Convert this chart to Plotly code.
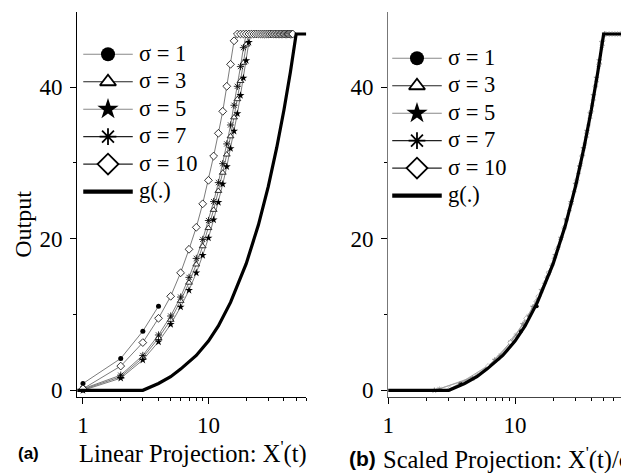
import plotly.graph_objects as go

W, H = 621, 473
ML, MR, MT, MB = 0, 0, 12, 76

# ---------------- data ----------------
x_sig1 = [1, 2, 3, 4]
y_sig1 = [0.9, 4.2, 7.8, 11.1]

x_sig3 = list(range(1, 22))
y_sig3 = [0.1, 1.8, 4.3, 6.9, 9.3, 11.8, 14.2, 16.6, 19.0, 21.4, 23.8, 26.3,
          28.7, 31.1, 33.5, 36.0, 38.4, 40.8, 43.2, 45.6, 47.0]

x_sig5 = list(range(1, 23))
y_sig5 = [0.0, 1.6, 4.0, 6.4, 8.7, 11.0, 13.2, 15.5, 17.8, 20.1, 22.5, 24.8,
          27.2, 29.5, 31.9, 34.2, 36.5, 38.9, 41.2, 43.5, 45.9, 47.0]

x_sig7 = list(range(1, 21))
y_sig7 = [0.2, 2.0, 4.6, 7.3, 9.8, 12.3, 14.9, 17.4, 19.9, 22.4, 24.9, 27.4,
          29.9, 32.5, 35.0, 37.6, 40.1, 42.7, 45.2, 47.0]

x_sig10 = list(range(1, 48))
y_sig10 = [0.2, 3.2, 6.3, 9.5, 12.4, 15.5, 18.6, 21.5, 24.6, 27.7, 30.9, 33.9,
           36.8, 40.1, 43.0, 46.1, 47, 47, 47, 47, 47, 47, 47, 47, 47, 47, 47,
           47, 47, 47, 47, 47, 47, 47, 47, 47, 47, 47, 47, 47, 47, 47, 47, 47,
           47, 47, 47]

# scaling constants c used on panel (b): X'(t)/c
c_sig1, c_sig3, c_sig5, c_sig7, c_sig10 = 0.27, 0.41, 0.433, 0.394, 0.326

g_x = [0.85, 1, 2, 3, 4, 5, 6, 7, 8, 10, 12, 15, 20, 25, 30, 35, 40, 45, 50, 60, 80]
g_y = [0, 0, 0, 0, 0.9, 1.8, 2.8, 3.7, 4.6, 6.5, 8.5, 11.6, 16.7, 21.8, 26.9,
       32.0, 37.0, 42.0, 47.0, 47.0, 47.0]

legend_labels = ["σ = 1", "σ = 3", "σ = 5", "σ = 7", "σ = 10", "g(.)"]
panel_a_title = "Linear Projection: X<sup>'</sup>(t)"
panel_b_title = "Scaled Projection: X<sup>'</sup>(t)/σ"
y_title = "Output"

# ---------------- helpers ----------------
SERIF = "Liberation Serif"
SANS = "Liberation Sans"
PW = W - ML - MR
PH = H - MT - MB


def px(x):
    return (x - ML) / PW


def py(y):
    return (H - MB - y) / PH


series = [
    (x_sig1, y_sig1, c_sig1, dict(symbol="circle", size=5, color="black",
                                  line=dict(width=0))),
    (x_sig3, y_sig3, c_sig3, dict(symbol="triangle-up", size=6, color="white",
                                  line=dict(width=0.8, color="black"))),
    (x_sig5, y_sig5, c_sig5, dict(symbol="star", size=6, color="black",
                                  line=dict(width=0))),
    (x_sig7, y_sig7, c_sig7, dict(symbol="asterisk-open", size=6, color="black",
                                  line=dict(width=0.8, color="black"))),
    (x_sig10, y_sig10, c_sig10, dict(symbol="diamond", size=6, color="white",
                                     line=dict(width=0.8, color="black"))),
]
legend_markers = [
    dict(symbol="circle", size=14, color="black", line=dict(width=0)),
    dict(symbol="triangle-up", size=14, color="white",
         line=dict(width=1.8, color="black")),
    dict(symbol="star", size=16, color="black", line=dict(width=0)),
    dict(symbol="asterisk-open", size=14, color="black",
         line=dict(width=1.8, color="black")),
    dict(symbol="diamond", size=16, color="white",
         line=dict(width=1.8, color="black")),
]
legend_line_colors = ["#888", "#222", "#888", "#222", "#222"]

fig = go.Figure()

# panel (a)
for (xs, ys, c, mk) in series:
    fig.add_trace(go.Scatter(x=xs, y=ys, mode="lines+markers",
                             line=dict(color="#444", width=0.7), marker=mk,
                             showlegend=False, xaxis="x", yaxis="y",
                             cliponaxis=False))
fig.add_trace(go.Scatter(x=g_x, y=g_y, mode="lines",
                         line=dict(color="black", width=3.2),
                         showlegend=False, xaxis="x", yaxis="y"))

# panel (b)
for (xs, ys, c, mk) in series:
    mk2 = dict(mk)
    mk2["size"] = 4
    if mk["symbol"] != "circle":
        mk2["color"] = "white" if mk["color"] == "white" else "#777"
        mk2["line"] = dict(width=0.5, color="#888")
    fig.add_trace(go.Scatter(x=[v / c for v in xs], y=ys, mode="lines+markers",
                             line=dict(color="#999", width=0.6), marker=mk2,
                             showlegend=False, xaxis="x2", yaxis="y2"))
fig.add_trace(go.Scatter(x=g_x, y=g_y, mode="lines",
                         line=dict(color="black", width=3.2),
                         showlegend=False, xaxis="x2", yaxis="y2"))

# ---- legend keys drawn on a pixel-unit overlay axis (x3/y3) ----
annotations = []
for (lx0, ly0) in ((78, 54.3), (390, 58.3)):
    for i, lab in enumerate(legend_labels):
        yy = ly0 + 27.45 * i
        if i < 5:
            fig.add_trace(go.Scatter(x=[lx0, lx0 + 50], y=[yy, yy], mode="lines",
                                     line=dict(color=legend_line_colors[i], width=1.1),
                                     showlegend=False, hoverinfo="skip",
                                     xaxis="x3", yaxis="y3"))
            fig.add_trace(go.Scatter(x=[lx0 + 25], y=[yy], mode="markers",
                                     marker=legend_markers[i], showlegend=False,
                                     hoverinfo="skip", xaxis="x3", yaxis="y3"))
        else:
            fig.add_trace(go.Scatter(x=[lx0, lx0 + 50], y=[yy, yy], mode="lines",
                                     line=dict(color="black", width=4.2),
                                     showlegend=False, hoverinfo="skip",
                                     xaxis="x3", yaxis="y3"))
        annotations.append(dict(text=lab, x=px(lx0 + 54), y=py(yy - 1),
                                xref="paper", yref="paper",
                                xanchor="left", yanchor="middle", showarrow=False,
                                font=dict(family=SERIF, size=22.5, color="black")))

axis_common = dict(
    showline=True, linecolor="black", linewidth=1.2, ticks="outside",
    ticklen=6, tickwidth=1.2, tickcolor="black", showgrid=False,
    zeroline=False, tickfont=dict(family=SERIF, size=23, color="black"),
)
xminor = dict(ticks="outside", ticklen=3, tickwidth=1, tickcolor="black",
              tickvals=[2, 3, 4, 5, 6, 7, 8, 9, 20, 30, 40, 50, 60, 70, 80, 90],
              showgrid=False)
yminor = dict(ticks="outside", ticklen=3, tickwidth=1, tickcolor="black",
              tickvals=[10, 30], showgrid=False)


def ann(text, x, y, size, family, xanchor="center", angle=0):
    return dict(text=text, x=px(x), y=py(y), xref="paper", yref="paper",
                showarrow=False, xanchor=xanchor, yanchor="middle",
                textangle=angle,
                font=dict(family=family, size=size, color="black"))


annotations += [
    ann(y_title, 17, 224, 24, SERIF, angle=-90),
    ann("<b>(a)</b>", 22.5, 453, 17, SANS),
    ann(panel_a_title, 188.5, 452, 24.5, SERIF),
    ann("<b>(b)</b>", 359.5, 458, 21, SANS),
    ann(panel_b_title, 379, 458, 24.5, SERIF, xanchor="left"),
]

fig.update_layout(
    width=W, height=H,
    margin=dict(l=ML, r=MR, t=MT, b=MB),
    paper_bgcolor="white", plot_bgcolor="rgba(0,0,0,0)",
    showlegend=False,
    xaxis=dict(axis_common, type="log", range=[-0.045, 1.778],
               domain=[72 / W, 303 / W], anchor="y", dtick=1, minor=xminor,
               ticklabelstandoff=1),
    yaxis=dict(axis_common, range=[-0.88, 49.9], domain=[0, 1], anchor="x",
               tickvals=[0, 20, 40], minor=yminor, ticklabelstandoff=3),
    xaxis2=dict(axis_common, type="log", range=[0, 1.836],
                domain=[386 / W, 1], anchor="y2", dtick=1, minor=xminor,
                linecolor="#444", ticklabelstandoff=1),
    yaxis2=dict(axis_common, range=[-0.88, 49.9], domain=[0, 1], anchor="x2",
                tickvals=[0, 20, 40], minor=yminor, linecolor="#777",
                ticklabelstandoff=3),
    xaxis3=dict(range=[0, W], domain=[0, 1], visible=False, anchor="y3",
                fixedrange=True),
    yaxis3=dict(range=[H - MB, MT], domain=[0, 1], visible=False, anchor="x3",
                fixedrange=True),
    annotations=annotations,
)

fig.write_html("out.html")
